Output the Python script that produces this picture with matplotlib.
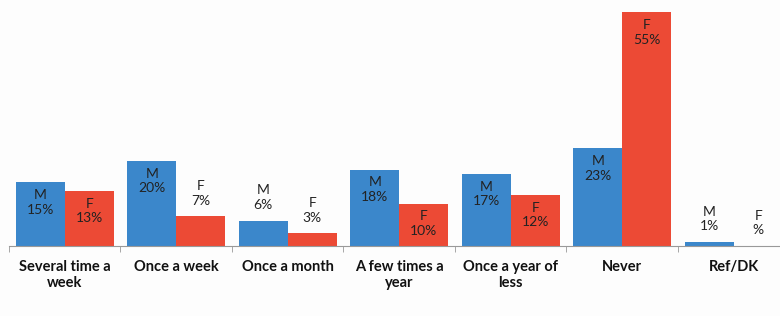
import matplotlib.pyplot as plt
import numpy as np

plt.rcParams['font.family'] = ['Lato', 'DejaVu Sans']

categories = ['Several time a\nweek', 'Once a week', 'Once a month', 'A few times a\nyear',
              'Once a year of\nless', 'Never', 'Ref/DK']
male = [15, 20, 6, 18, 17, 23, 1]
female = [13, 7, 3, 10, 12, 55, 0]
female_text = ['13%', '7%', '3%', '10%', '12%', '55%', '%']
male_text = ['15%', '20%', '6%', '18%', '17%', '23%', '1%']

blue = '#3b87cb'
red = '#ec4a35'

fig = plt.figure(figsize=(7.8, 3.16), dpi=100, facecolor='#fdfdfd')
ax = fig.add_axes([9 / 780, 70 / 316, 771 / 780, 246 / 316])
ax.set_facecolor('#fdfdfd')

x = np.arange(len(categories))
w = 0.44
ax.bar(x - w / 2, male, w, color=blue)
ax.bar(x + w / 2, female, w, color=red)


def label(xpos, val, sex, txt):
    if val >= 10:
        ax.annotate(sex + '\n' + txt, (xpos, val), xytext=(0, -5), textcoords='offset points',
                    ha='center', va='top', fontsize=10, color='#222222', linespacing=1.25)
    else:
        ax.annotate(sex + '\n' + txt, (xpos, val), xytext=(0, 7), textcoords='offset points',
                    ha='center', va='bottom', fontsize=10, color='#222222', linespacing=1.25)


for i in range(len(categories)):
    label(x[i] - w / 2, male[i], 'M', male_text[i])
    label(x[i] + w / 2, female[i], 'F', female_text[i])

ax.set_xlim(-0.5, 6.415)
ax.set_ylim(0, 57.9)
for s in ['top', 'right', 'left']:
    ax.spines[s].set_visible(False)
ax.spines['bottom'].set_color('#999999')
ax.set_yticks([])
ax.set_xticks(x)
ax.set_xticklabels(categories, fontsize=10.5, fontweight='bold', color='#111111', linespacing=1.2)
ax.tick_params(axis='x', which='major', length=0, pad=10)
ax.set_xticks(np.arange(-0.5, 6.5, 1), minor=True)
ax.tick_params(axis='x', which='minor', length=4, color='#999999')

plt.savefig('out.png', dpi=100, facecolor=fig.get_facecolor())
